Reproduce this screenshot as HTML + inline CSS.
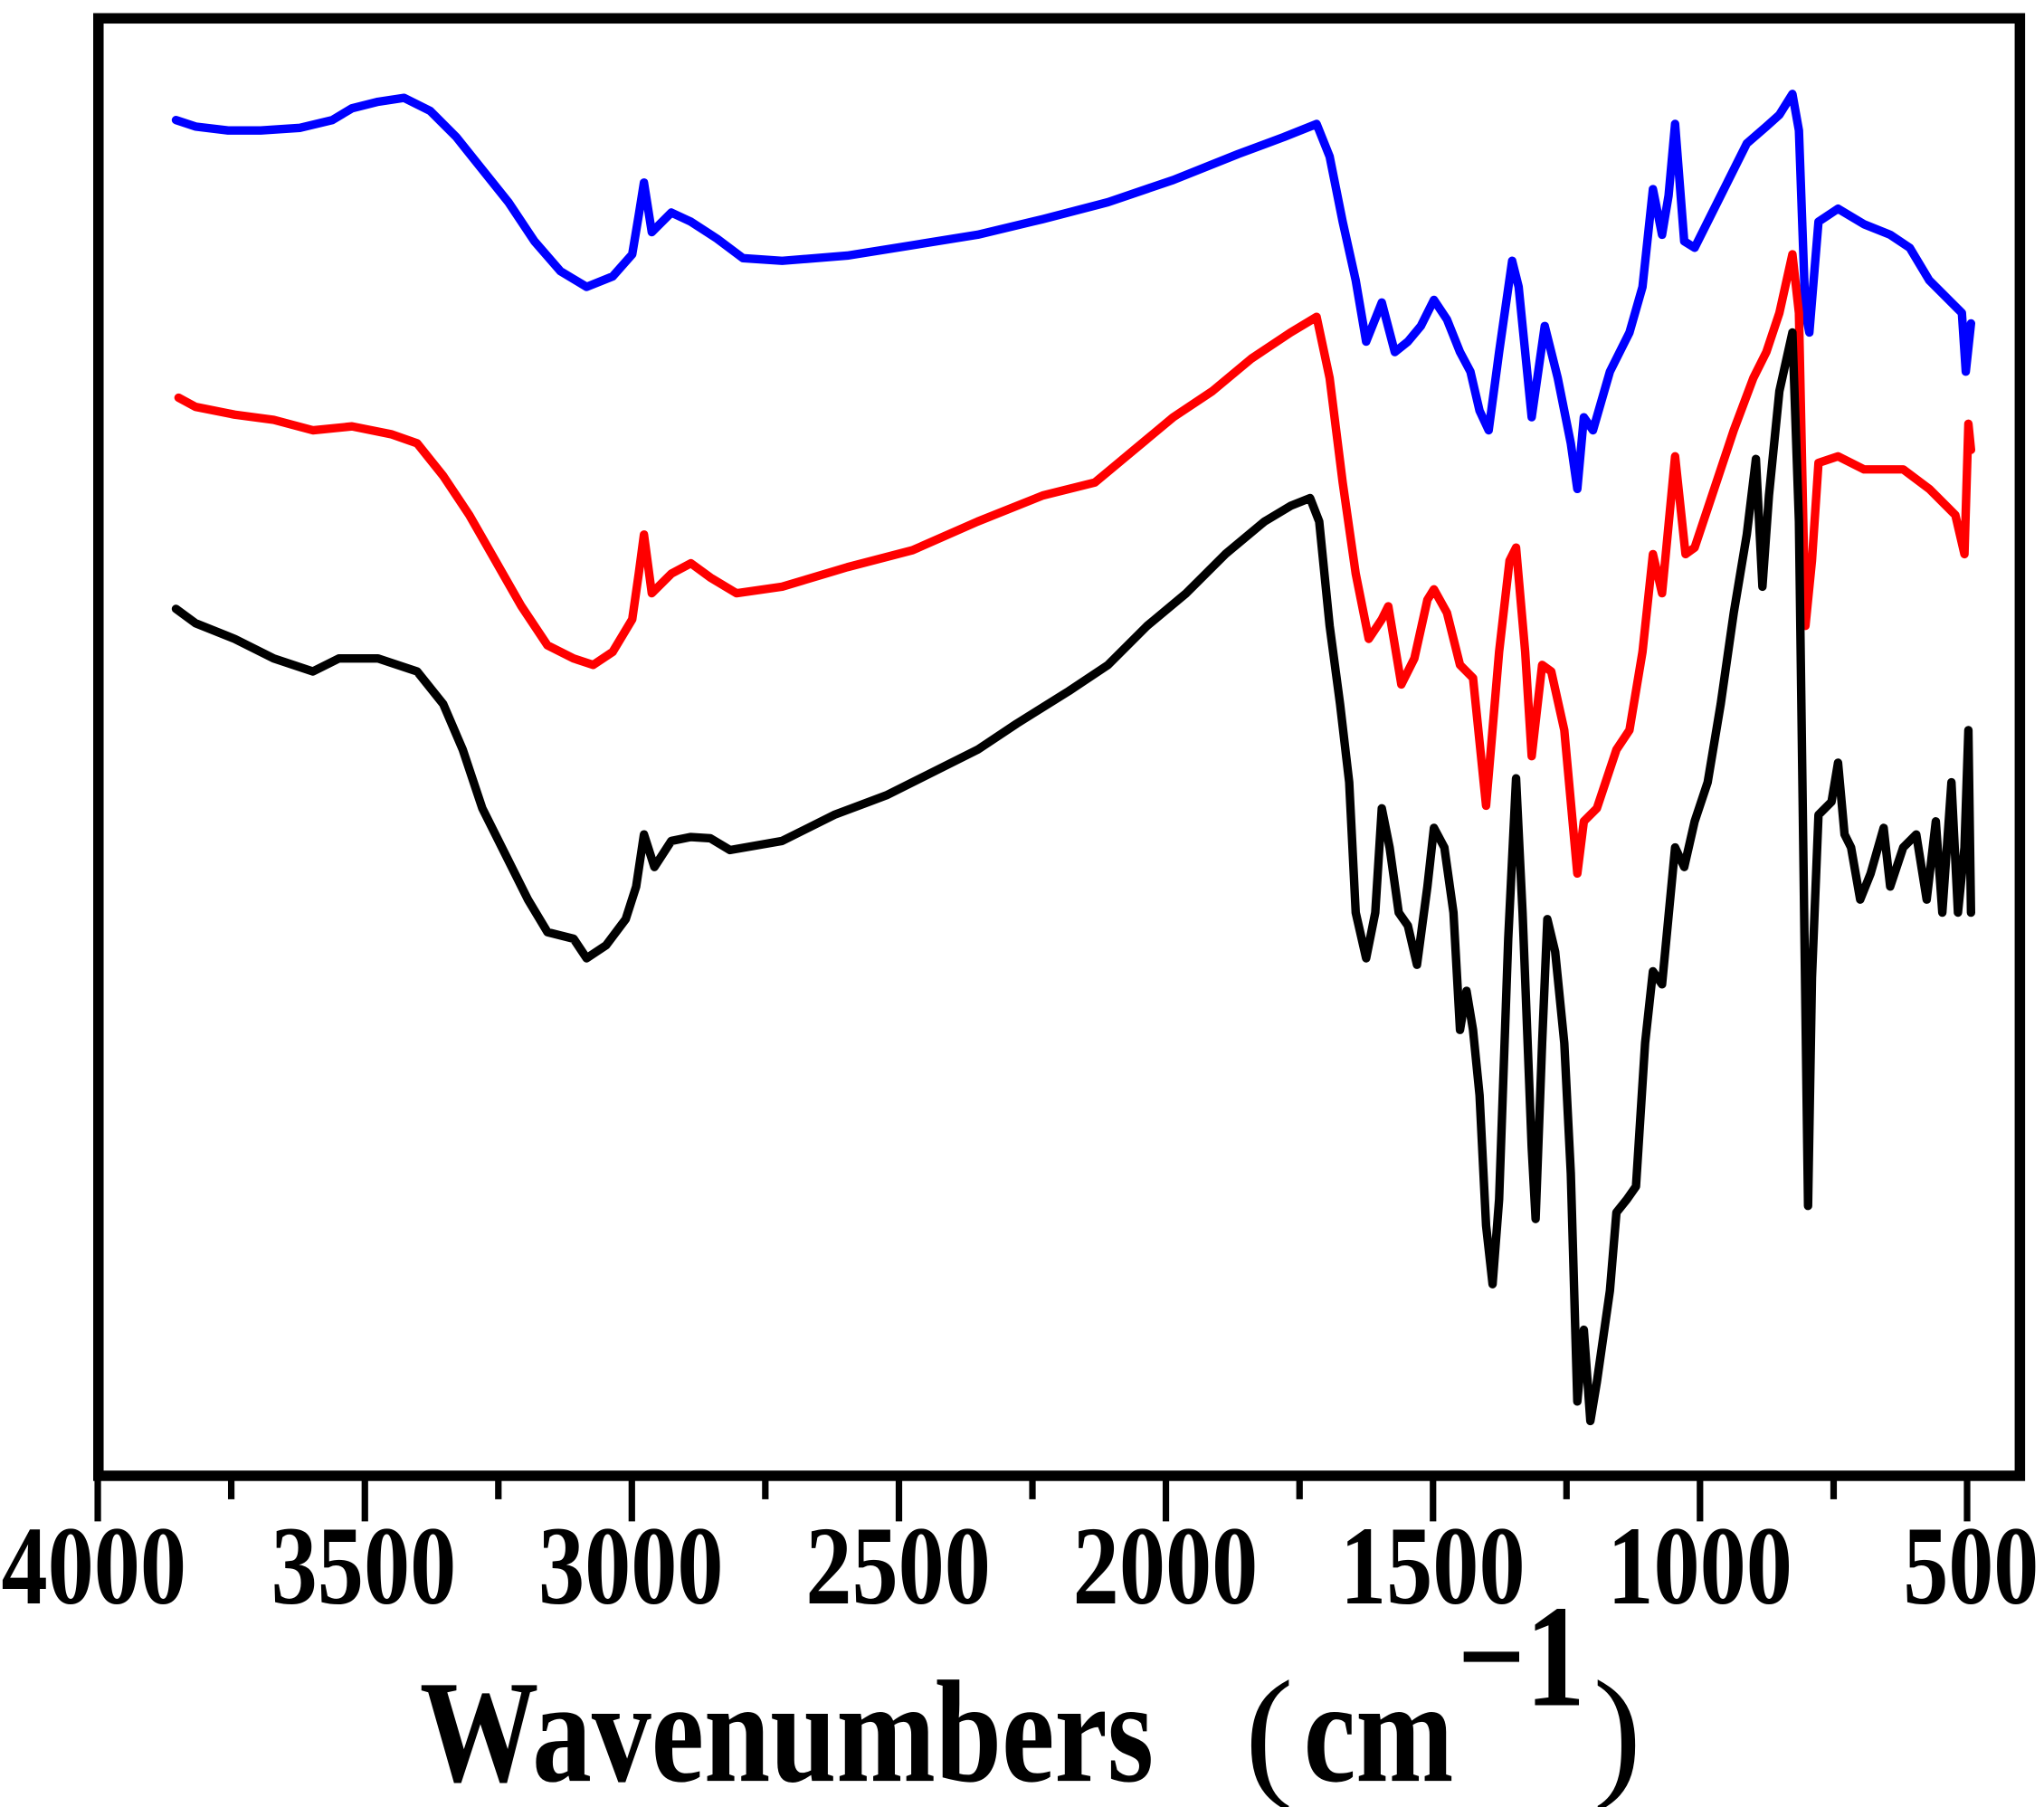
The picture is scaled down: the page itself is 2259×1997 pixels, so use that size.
<!DOCTYPE html>
<html><head><meta charset="utf-8"><style>html,body{margin:0;padding:0;background:#fff}svg{display:block}</style></head><body>
<svg width="2259" height="1997" viewBox="0 0 1568 1386" xmlns="http://www.w3.org/2000/svg">
<rect x="0" y="0" width="1568" height="1386" fill="#fff"/>
<g fill="none" stroke-linejoin="round" stroke-linecap="round" stroke-width="6.5">
<polyline stroke="#0000ff" points="135,92 150,97 175,100 200,100 230,98 255,92 270,83 290,78 310,75 330,85 350,105 370,130 390,155 410,185 430,208 450,220 470,212 485,195 490,165 494,140 500,178 515,163 530,170 550,183 570,198 600,200 650,196 700,188 750,180 800,168 850,155 900,138 950,118 985,105 1010,95 1020,120 1030,170 1040,215 1048,262 1060,232 1070,270 1080,262 1090,250 1100,230 1110,245 1120,270 1128,285 1135,315 1142,330 1150,270 1160,200 1165,220 1175,320 1185,250 1195,290 1205,340 1210,375 1215,320 1222,330 1235,285 1250,255 1260,220 1268,145 1275,180 1280,150 1285,95 1292,185 1300,190 1310,170 1325,140 1340,110 1355,97 1365,88 1375,72 1380,100 1385,240 1388,255 1395,170 1410,160 1430,172 1450,180 1465,190 1480,215 1495,230 1505,240 1508,285 1512,248"/>
<polyline stroke="#ff0000" points="137,305 150,312 180,318 210,322 240,330 270,327 300,333 320,340 340,365 360,395 380,430 400,465 420,495 440,505 455,510 470,500 485,475 490,440 494,410 500,455 515,440 530,432 545,443 565,455 600,450 650,435 700,422 750,400 800,380 840,370 870,345 900,320 930,300 960,275 990,255 1010,243 1020,290 1030,370 1040,440 1050,490 1060,475 1065,465 1075,525 1085,505 1095,460 1100,452 1110,470 1120,510 1130,520 1140,618 1150,500 1158,430 1163,420 1170,500 1175,580 1183,510 1190,515 1200,560 1210,670 1215,630 1225,620 1240,575 1250,560 1260,500 1268,425 1275,455 1285,350 1293,425 1300,420 1315,375 1330,330 1345,290 1355,270 1365,240 1375,195 1380,240 1385,480 1390,430 1395,355 1410,350 1430,360 1460,360 1480,375 1500,395 1507,425 1510,325 1512,345"/>
<polyline stroke="#000" points="135,467 150,478 180,490 210,505 240,515 260,505 290,505 320,515 340,540 355,575 370,620 390,660 405,690 420,715 440,720 450,735 465,725 480,705 488,680 494,640 502,665 515,645 530,642 545,643 560,652 600,645 640,625 680,610 710,595 750,575 780,555 820,530 850,510 880,480 910,455 940,425 970,400 990,388 1005,382 1012,400 1020,480 1028,540 1035,600 1040,700 1048,735 1055,700 1060,620 1066,650 1073,700 1080,710 1087,740 1095,680 1100,635 1108,650 1115,700 1120,790 1125,760 1130,790 1135,840 1140,940 1145,985 1150,920 1157,720 1163,597 1168,700 1175,880 1178,935 1183,800 1187,705 1193,730 1200,800 1205,900 1210,1075 1215,1020 1220,1090 1225,1060 1235,990 1240,930 1248,920 1255,910 1262,800 1268,745 1275,755 1285,650 1292,665 1300,630 1310,600 1320,540 1330,470 1340,410 1347,352 1352,450 1357,380 1365,300 1375,255 1380,400 1384,700 1387,925 1390,750 1395,625 1405,615 1410,585 1415,640 1420,650 1427,690 1435,670 1445,635 1450,680 1460,650 1470,640 1478,690 1485,630 1490,700 1497,600 1502,700 1507,650 1510,560 1512,700"/>
</g>
<rect x="75.5" y="14" width="1474" height="1118" fill="none" stroke="#000" stroke-width="8"/>
<g stroke="#000" stroke-width="5">
<line x1="75" y1="1132" x2="75" y2="1167"/><line x1="177.4" y1="1132" x2="177.4" y2="1150"/>
<line x1="279.9" y1="1132" x2="279.9" y2="1167"/><line x1="382.3" y1="1132" x2="382.3" y2="1150"/>
<line x1="484.7" y1="1132" x2="484.7" y2="1167"/><line x1="587.1" y1="1132" x2="587.1" y2="1150"/>
<line x1="689.6" y1="1132" x2="689.6" y2="1167"/><line x1="792" y1="1132" x2="792" y2="1150"/>
<line x1="894.4" y1="1132" x2="894.4" y2="1167"/><line x1="996.9" y1="1132" x2="996.9" y2="1150"/>
<line x1="1099.3" y1="1132" x2="1099.3" y2="1167"/><line x1="1201.7" y1="1132" x2="1201.7" y2="1150"/>
<line x1="1304.1" y1="1132" x2="1304.1" y2="1167"/><line x1="1406.6" y1="1132" x2="1406.6" y2="1150"/>
<line x1="1509" y1="1132" x2="1509" y2="1167"/>
</g>
<g font-family="Liberation Serif, serif" font-weight="bold" font-size="86" text-anchor="middle" fill="#000">
<text x="72" y="1230" textLength="142" lengthAdjust="spacingAndGlyphs">4000</text>
<text x="279" y="1230" textLength="142" lengthAdjust="spacingAndGlyphs">3500</text>
<text x="484" y="1230" textLength="142" lengthAdjust="spacingAndGlyphs">3000</text>
<text x="689" y="1230" textLength="142" lengthAdjust="spacingAndGlyphs">2500</text>
<text x="894" y="1230" textLength="142" lengthAdjust="spacingAndGlyphs">2000</text>
<text x="1099" y="1230" textLength="142" lengthAdjust="spacingAndGlyphs">1500</text>
<text x="1304" y="1230" textLength="142" lengthAdjust="spacingAndGlyphs">1000</text>
<text x="1512" y="1230" textLength="104" lengthAdjust="spacingAndGlyphs">500</text>
</g>
<g font-family="Liberation Serif, serif" font-weight="bold" fill="#000">
<text x="322" y="1366" font-size="112" textLength="563" lengthAdjust="spacingAndGlyphs">Wavenumbers</text>
<text x="955" y="1366" font-size="112" font-weight="normal">(</text>
<text x="1000" y="1366" font-size="112" textLength="115" lengthAdjust="spacingAndGlyphs">cm</text>
<text x="1118" y="1308" font-size="112" textLength="98" lengthAdjust="spacingAndGlyphs">−1</text>
<text x="1222" y="1366" font-size="112" font-weight="normal">)</text>
</g>
</svg>
</body></html>
